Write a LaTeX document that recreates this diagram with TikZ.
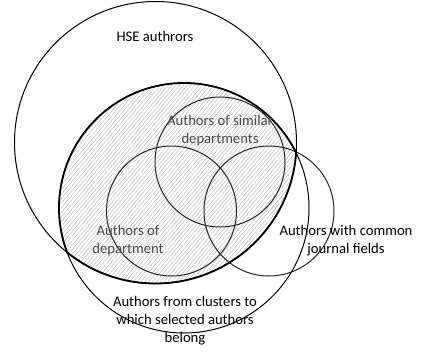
\documentclass[tikz,border=0pt]{standalone}
\usepackage{fontspec}
\setmainfont{Carlito}
\usetikzlibrary{patterns.meta}
\definecolor{inner}{HTML}{4A4A4A}
\begin{document}
\begin{tikzpicture}[x=0.75pt,y=-0.75pt,
  thin line/.style={draw=black,line width=0.75pt},
  small circ/.style={draw=black!85,line width=0.75pt},
  thick line/.style={draw=black,line width=1.35pt},
  lbl/.style={font=\fontsize{11}{13.4}\selectfont,align=center,inner sep=0pt,text=black},
  innerlbl/.style={lbl,text=inner}]
\useasboundingbox (0,0) rectangle (421,354);
\coordinate (hsec) at (155.5,142.5);
\coordinate (cluc) at (184,208);
% hatched intersection of HSE and cluster circles
\begin{scope}
  \clip (hsec) circle [radius=141];
  \fill[pattern={Lines[angle=50,distance=2.2pt,line width=0.3pt]},pattern color=black!28]
    (cluc) circle [radius=125];
\end{scope}
% thin outlines
\draw[thin line] (hsec) circle [radius=141];
\draw[thin line] (cluc) circle [radius=125];
\draw[small circ] (220,162) circle [radius=65];
\draw[small circ] (171.5,211) circle [radius=65];
\draw[small circ] (269,211) circle [radius=65];
% thick outline of the intersection
\begin{scope}
  \clip (hsec) circle [radius=141.8];
  \draw[thick line] (cluc) circle [radius=125];
\end{scope}
\begin{scope}
  \clip (cluc) circle [radius=125.8];
  \draw[thick line] (hsec) circle [radius=141];
\end{scope}
% labels
\node[lbl] (hse) at (155,36) {HSE authrors};
\node[innerlbl] (sim) at (220,131) {Authors of similar\\departments};
\node[innerlbl] (dep) at (128,241) {Authors of\\department};
\node[lbl] (jour) at (346,241) {Authors with common\\journal fields};
\node[lbl] (clu) at (185,321) {Authors from clusters to\\which selected authors\\belong};
\end{tikzpicture}
\end{document}
